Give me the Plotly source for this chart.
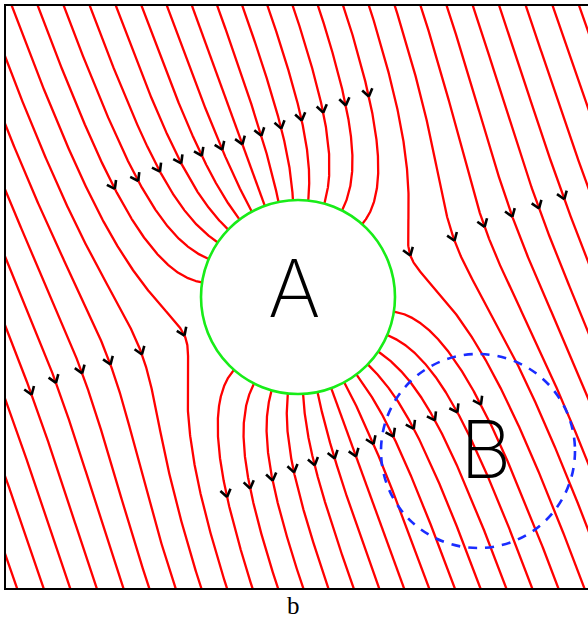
import numpy as np
import plotly.graph_objects as go

# ---- geometry (units = reference pixels, origin at the
#      lower-left corner of the frame, y pointing up) ----
box_size = 584
A_center = [293, 292]
A_radius = 97
B_center = [473, 138]
B_radius = 97
field_tilt_deg = 20          # uniform field points downward, tilted toward +x
line_spacing = 24.57         # spacing of the field lines far from A
line_offset = 0.0            # offset of the line family across the field
line_index = list(range(-27, 28))

# arrow positions (centre of each chevron)
arrow_x = [108, 132, 153, 173, 193, 213, 233, 255, 274, 293, 315, 338, 360,
           25, 48, 75, 101, 130, 172,
           410, 450, 478, 507, 533, 558,
           220, 243, 265, 285, 307, 327, 347, 367, 387, 407, 428, 450, 472]
arrow_y = [404, 412, 421, 429, 436, 442, 450, 457, 464, 472, 480, 487, 496,
           199, 209, 219, 227, 237, 254,
           339, 354, 366, 376, 385, 394,
           96, 104, 112, 120, 127, 134, 142, 149, 156, 164, 172, 180, 187]

label_A = "A"
label_B = "B"
label_b = "b"

# ---- field lines of a neutral conducting sphere in a uniform field ----
tilt = np.radians(field_tilt_deg)
e = np.array([np.sin(tilt), -np.cos(tilt)])   # field direction
n = np.array([np.cos(tilt), np.sin(tilt)])    # perpendicular
C = np.array(A_center, float)
R = float(A_radius)


def solve_r(T):
    lo = np.full_like(T, R)
    hi = np.maximum(np.sqrt(T), R) + 1.0
    for _ in range(60):
        mid = 0.5 * (lo + hi)
        f = mid ** 2 + 2 * R ** 3 / mid
        big = f > T
        hi = np.where(big, mid, hi)
        lo = np.where(big, lo, mid)
    return 0.5 * (lo + hi)


def to_xy(w, r, sg):
    c = w / np.sqrt(1 + w * w)
    s = 1 / np.sqrt(1 + w * w)
    pts = C[None, :] + (r * c)[:, None] * e[None, :] + (sg * r * s)[:, None] * n[None, :]
    return pts


def field_line(h):
    a = abs(h)
    sg = 1.0 if h >= 0 else -1.0
    crit = np.sqrt(3) * R
    segs = []
    if a < 1e-6:
        u1 = np.linspace(-3000, -R, 400)
        u2 = np.linspace(R, 3000, 400)
        for u in (u1, u2):
            segs.append(C[None, :] + u[:, None] * e[None, :])
        return segs
    W = 3000.0 / a
    if a > crit:
        w = np.linspace(-W, W, 4000)
        segs.append(to_xy(w, solve_r(a * a * (1 + w * w)), sg))
    else:
        w0 = np.sqrt(max(3 * R * R / (a * a) - 1, 0))
        t = np.linspace(0, 1, 2500)
        wd = w0 + (W - w0) * t ** 2
        wu = -wd[::-1]
        for w in (wu, wd):
            segs.append(to_xy(w, solve_r(a * a * (1 + w * w)), sg))
    return segs


lx, ly = [], []
all_segs = []
for k in line_index:
    h = line_offset + k * line_spacing
    for seg in field_line(h):
        m = (seg[:, 0] > -60) & (seg[:, 0] < box_size + 60) & \
            (seg[:, 1] > -60) & (seg[:, 1] < box_size + 60)
        seg = seg[m]
        if len(seg) < 2:
            continue
        all_segs.append(seg)
        lx += list(seg[:, 0]) + [None]
        ly += list(seg[:, 1]) + [None]

# ---- chevron arrowheads snapped onto the nearest field line ----
ax_, ay_ = [], []
L, half, ahead = 9.0, np.radians(35), 4.0
for px, py in zip(arrow_x, arrow_y):
    best = None
    for seg in all_segs:
        d = np.hypot(seg[:, 0] - px, seg[:, 1] - py)
        i = int(np.argmin(d))
        if best is None or d[i] < best[0]:
            best = (d[i], seg, i)
    _, seg, i = best
    # move the tip a few pixels downstream along the line
    steps = np.hypot(*np.diff(seg, axis=0).T)
    acc = 0.0
    while i < len(seg) - 2 and acc < ahead:
        acc += steps[i]
        i += 1
    i0, i1 = max(i - 3, 0), min(i + 3, len(seg) - 1)
    dvec = seg[i1] - seg[i0]
    dvec = dvec / np.hypot(*dvec)
    tip = seg[i]
    for sgn in (1, -1):
        ca, sa = np.cos(sgn * half), np.sin(sgn * half)
        back = -np.array([ca * dvec[0] - sa * dvec[1], sa * dvec[0] + ca * dvec[1]])
        ax_ += [tip[0] + L * back[0], tip[0], None]
        ay_ += [tip[1] + L * back[1], tip[1], None]

fig = go.Figure()
fig.add_trace(go.Scatter(x=lx, y=ly, mode="lines",
                         line=dict(color="#ff0000", width=2.3),
                         hoverinfo="skip", showlegend=False))
fig.add_trace(go.Scatter(x=ax_, y=ay_, mode="lines",
                         line=dict(color="black", width=2.6),
                         hoverinfo="skip", showlegend=False))

fig.add_shape(type="circle", xref="x", yref="y",
              x0=A_center[0] - A_radius, x1=A_center[0] + A_radius,
              y0=A_center[1] - A_radius, y1=A_center[1] + A_radius,
              line=dict(color="#18ec18", width=2.6), fillcolor="white", layer="above")
fig.add_shape(type="circle", xref="x", yref="y",
              x0=B_center[0] - B_radius, x1=B_center[0] + B_radius,
              y0=B_center[1] - B_radius, y1=B_center[1] + B_radius,
              line=dict(color="#1a2cff", width=2.6, dash="9px,8px"), layer="above")

letter_font = dict(family="Inter, Lato, sans-serif", size=80, color="black", weight=200)
fig.add_annotation(x=A_center[0] - 4, y=A_center[1] + 10, text=label_A, showarrow=False,
                   font=letter_font, xanchor="center", yanchor="middle")
fig.add_annotation(x=B_center[0] + 8, y=B_center[1] + 3, text=label_B, showarrow=False,
                   font=letter_font, xanchor="center", yanchor="middle")
fig.add_annotation(x=288, y=-33 / 582, xref="x", yref="paper", text=label_b, showarrow=False,
                   font=dict(family="Liberation Serif, serif", size=25, color="black"),
                   xanchor="center", yanchor="bottom")

fig.update_xaxes(range=[1, 583], showgrid=False, zeroline=False, showticklabels=False,
                 ticks="", showline=True, mirror=True, linecolor="black", linewidth=2)
fig.update_yaxes(range=[1, 583], showgrid=False, zeroline=False, showticklabels=False,
                 ticks="", showline=True, mirror=False, linecolor="black", linewidth=2)
fig.update_layout(width=588, height=620, margin=dict(l=6, r=0, t=6, b=32),
                  plot_bgcolor="white", paper_bgcolor="white")
fig.write_html("out.html", config={"displayModeBar": False},
               post_script="document.body.style.margin='0';")
